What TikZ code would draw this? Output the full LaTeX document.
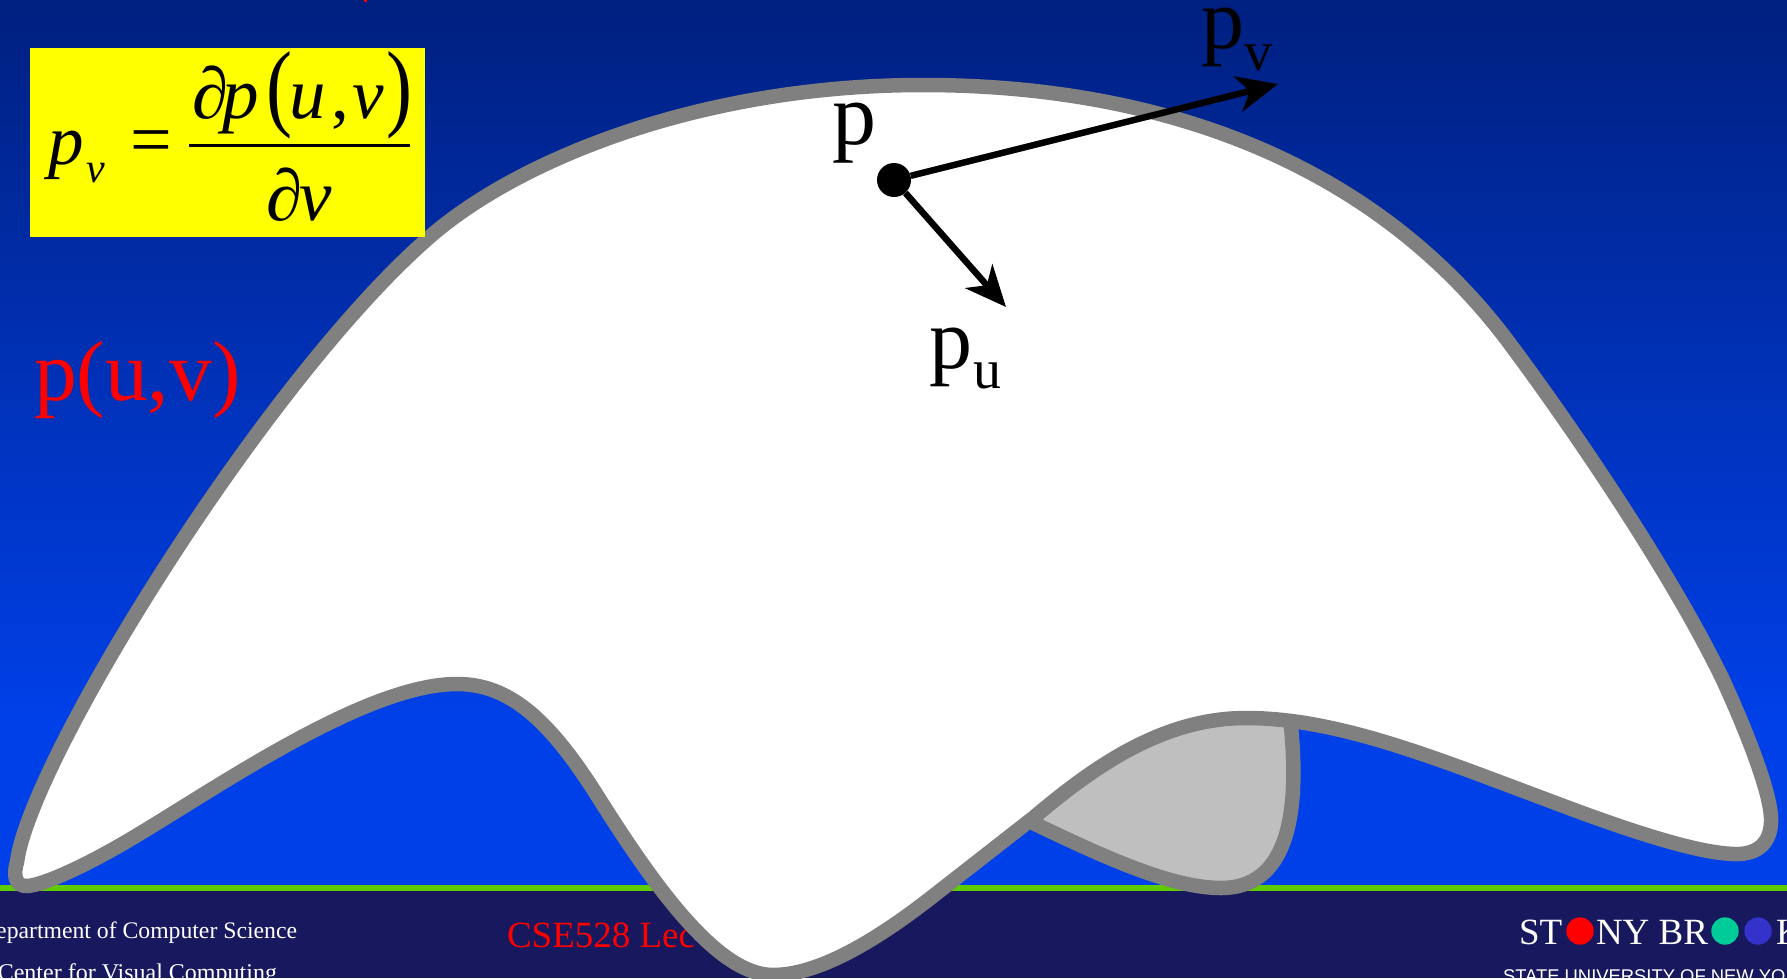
\documentclass[tikz,border=0pt]{standalone}
\usepackage{fontspec}
\usepackage{graphicx}
\setmainfont{Liberation Serif}
\newfontfamily\arialf{Liberation Sans}
\usetikzlibrary{arrows.meta}
\definecolor{topblue}{HTML}{002080}
\definecolor{botblue}{HTML}{0040E8}
\definecolor{footbg}{HTML}{18185E}
\definecolor{greenbar}{HTML}{5FCC00}
\definecolor{edgegray}{HTML}{808080}
\definecolor{pocketgray}{HTML}{BFBFBF}
\definecolor{teal}{HTML}{00CC99}
\definecolor{indigo}{HTML}{3333CC}
\definecolor{boxyellow}{HTML}{FFFF00}
\definecolor{redtext}{HTML}{FF0000}
\tikzset{
  txt/.style={anchor=base west,inner sep=0pt,outer sep=0pt},
  txtr/.style={anchor=base east,inner sep=0pt,outer sep=0pt},
  outline/.style={draw=edgegray,line width=14.5pt,line join=round},
  vec/.style={line width=6.5pt,-{Stealth[length=41pt,width=36pt,inset=12pt]}},
}
\newcommand{\fs}[1]{\fontsize{#1}{#1}\selectfont}
\begin{document}
\begin{tikzpicture}[x=1pt,y=-1pt]
\useasboundingbox (0,0) rectangle (1787,978);
\clip (0,0) rectangle (1787,978);
\shade[top color=topblue,bottom color=botblue] (0,0) rectangle (1787,720);
\fill[botblue] (0,719) rectangle (1787,885);
\fill[footbg] (0,885) rectangle (1787,978);
\fill[greenbar] (0,885) rectangle (1787,891);
\fill[redtext] (364,0) rectangle (367,2);
% footer
\node[txtr,white] (dept) at (297,938) {\fs{23.7}Department of Computer Science};
\node[txtr,white] (cvc) at (277,980) {\fs{24}Center for Visual Computing};
\node[txt,redtext] (cse) at (507,947) {\fs{37}CSE528 Lec};
\node[txt,white] (st) at (1519,944) {\fs{37}ST};
\fill[redtext] (1580,931) circle (13.7);
\node[txt,white] (ny) at (1596,944) {\fs{37}NY BR};
\fill[teal] (1725,931) circle (13.7);
\fill[indigo] (1758,931) circle (13.7);
\node[txt,white] (k) at (1776,944) {\fs{37}K};
\node[txt,white] (suny) at (1503,982) {\arialf\fs{18.4}STATE UNIVERSITY OF NEW YORK};
% surface
\draw[outline,fill=pocketgray] (1289,700) -- (1291,727)
   .. controls (1300,820) and (1285,888) .. (1221,888)
   .. controls (1170,888) and (1100,855) .. (1033,823) -- (1100,700) -- cycle;
\draw[outline,fill=white] (17,862)
   .. controls (30,760) and (268,375) .. (433,234)
   .. controls (520,160) and (700,85) .. (923,85)
   .. controls (1170,85) and (1377,168) .. (1507,340)
   .. controls (1567,420) and (1670,570) .. (1723,680)
   .. controls (1745,728) and (1770,790) .. (1771,818)
   .. controls (1772,845) and (1755,855) .. (1734,854)
   .. controls (1700,853) and (1640,835) .. (1553,802)
   .. controls (1440,760) and (1340,718) .. (1246,718)
   .. controls (1160,718) and (1090,770) .. (1033,818)
   -- (937,893)
   .. controls (890,930) and (825,975) .. (773,975)
   .. controls (720,975) and (660,895) .. (600,800)
   .. controls (550,720) and (510,684) .. (457,684)
   .. controls (360,684) and (200,800) .. (117,847)
   .. controls (80,868) and (45,884) .. (28,886)
   .. controls (15,887) and (13,875) .. (17,862) -- cycle;
% labels
\node[txt,redtext] (puv) at (34,400) {\fs{85.5}p(u,v)};
\node[circle,fill=black,minimum size=34pt,inner sep=0pt] (P) at (894,180) {};
\coordinate (Pv) at (1278,84);
\coordinate (Pu) at (1006,307);
\draw[vec] (P) -- (Pv);
\draw[vec] (P) -- (Pu);
\node[txt] (lp) at (832,144) {\fs{88}p};
\node[txt] (lpv) at (1201,48) {\fs{86}p};
\node[txt] (lpvs) at (1244,70) {\fs{56}v};
\node[txt] (lpu) at (929,368) {\fs{86}p};
\node[txt] (lpus) at (973,388) {\fs{56}u};
% formula
\fill[boxyellow] (30,48) rectangle (425,237);
\begin{scope}[every node/.style={txt},font=\itshape]
\node (f1) at (48,164) {\fs{71}p};
\node (f2) at (86,182) {\fs{42}v};
\node (f3) at (130,164) {\fs{74}\upshape =};
\node (f4) at (192,118) {\fs{73}∂};
\node (f5) at (222,118) {\fs{73}p};
\node (f6) at (266,118) {\fs{71}\upshape\scalebox{1.1}[1.36]{(}};
\node (f7) at (289,118) {\fs{73}u};
\node (f8) at (331,118) {\fs{71}\upshape ,};
\node (f9) at (352,118) {\fs{71}v};
\node (f10) at (386,118) {\fs{71}\upshape\scalebox{1.1}[1.36]{)}};
\node (f11) at (266,220) {\fs{73}∂};
\node (f12) at (299,220) {\fs{73}v};
\end{scope}
\fill[black] (189,144) rectangle (410,147);
\end{tikzpicture}
\end{document}
